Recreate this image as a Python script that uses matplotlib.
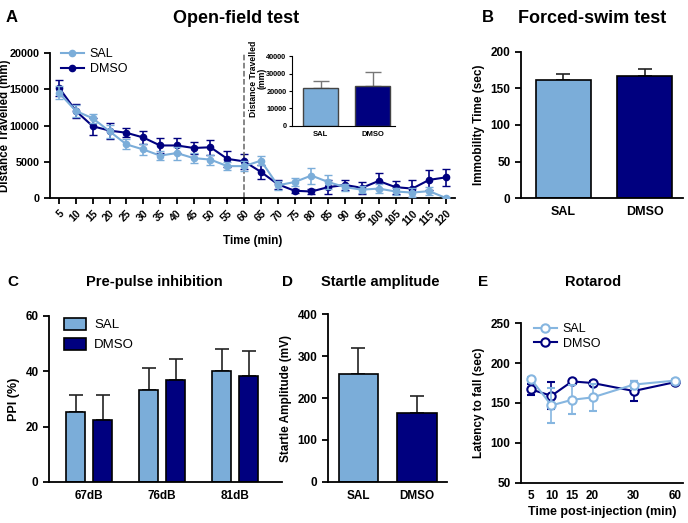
import matplotlib

matplotlib.use("Agg")
import matplotlib.pyplot as plt
import numpy as np
from matplotlib.patches import Patch

plt.rcParams["font.family"] = ["Liberation Sans", "DejaVu Sans"]
plt.rcParams["font.weight"] = "bold"
plt.rcParams["axes.labelweight"] = "bold"
plt.rcParams["axes.linewidth"] = 1.3
plt.rcParams["xtick.major.width"] = 1.3
plt.rcParams["ytick.major.width"] = 1.3

LIGHT = "#7badd9"
DARK = "#00007f"
GROUPS = ["SAL", "DMSO"]

# A: open field, distance per 5 min bin (mm)
of_time = list(range(5, 125, 5))
of_sal = [14500, 12000, 11000, 9200, 7400, 6700, 5850, 6200, 5500, 5300, 4400, 4400,
          5150, 1750, 2200, 3100, 2200, 1500, 1150, 1300, 900, 750, 950, 0]
of_sal_err = [900, 800, 600, 900, 700, 700, 600, 900, 700, 700, 500, 700,
              600, 600, 500, 1100, 1000, 500, 500, 600, 500, 600, 500, 200]
of_dmso = [15200, 12000, 9900, 9300, 9000, 8350, 7250, 7250, 6900, 7000, 5400, 5050,
           3600, 1900, 1000, 900, 1500, 1800, 1400, 2350, 1500, 1300, 2500, 2850]
of_dmso_err = [1100, 1000, 1200, 1100, 600, 900, 1000, 1000, 800, 1000, 1100, 1000,
               1000, 600, 300, 400, 1000, 700, 800, 1100, 900, 1200, 1400, 1200]
of_total = [22000, 23000]
of_total_err = [3500, 8000]

# B: forced swim
fs_mean = [162, 167]
fs_err = [8, 10]

# C: pre-pulse inhibition
ppi_levels = ["67dB", "76dB", "81dB"]
ppi_sal = [25.4, 33.4, 40.0]
ppi_sal_err = [6.0, 7.8, 8.0]
ppi_dmso = [22.5, 37.0, 38.2]
ppi_dmso_err = [8.8, 7.3, 9.1]

# D: startle amplitude
st_mean = [256, 165]
st_err = [63, 40]

# E: rotarod
rot_labels = ["5", "10", "15", "20", "30", "60"]
rot_pos = [5, 10, 15, 20, 30, 40]
rot_sal = [180, 147, 154, 157, 173, 178]
rot_sal_err = [3, 22, 18, 17, 5, 2]
rot_dmso = [167, 159, 177, 175, 165, 176]
rot_dmso_err = [7, 17, 2, 3, 13, 2]


def clean(ax):
    ax.spines["top"].set_visible(False)
    ax.spines["right"].set_visible(False)


def normal_legend(leg):
    for t in leg.get_texts():
        t.set_fontweight("normal")


def bar_pair(ax, means, errs, width, fs):
    x = np.arange(len(means))
    ax.bar(x, means, width=width, color=[LIGHT, DARK], edgecolor="black", linewidth=1.2, zorder=2)
    ax.errorbar(x, means, yerr=[[0] * len(errs), errs], fmt="none", ecolor="#222222",
                elinewidth=1.2, capsize=5, capthick=1.2, zorder=1)
    ax.set_xticks(x)
    ax.set_xticklabels(GROUPS, fontsize=fs, fontweight="bold")
    ax.tick_params(axis="x", length=0, pad=6)
    clean(ax)


fig = plt.figure(figsize=(6.88, 5.23), dpi=100)

# ---- A
ax = fig.add_axes([0.0727, 0.6214, 0.5887, 0.2772])
c1 = ax.errorbar(of_time, of_sal, yerr=of_sal_err, color=LIGHT, marker="o", ms=4.5, lw=1.5,
                 capsize=3, elinewidth=1.2, zorder=3)
c2 = ax.errorbar(of_time, of_dmso, yerr=of_dmso_err, color=DARK, marker="o", ms=4.5, lw=1.5,
                 capsize=3, elinewidth=1.2, zorder=2)
ax.axvline(60, color="#666666", ls="--", lw=1.1)
ax.set_xlim(2.3, 122.7)
ax.set_ylim(0, 20000)
ax.set_xticks(of_time)
ax.set_xticklabels([str(t) for t in of_time], rotation=45, ha="right", rotation_mode="anchor",
                   fontsize=7.5, fontweight="bold")
ax.set_yticks(range(0, 20001, 5000))
ax.set_yticklabels([str(v) for v in range(0, 20001, 5000)], fontsize=7.8, fontweight="bold")
ax.set_xlabel("Time (min)", fontsize=8.5, labelpad=5)
ax.set_ylabel("Distance Travelled (mm)", fontsize=8.3)
ax.yaxis.set_label_coords(-0.097, 0.5)
ax.tick_params(length=4)
clean(ax)
leg = ax.legend([c1[0], c2[0]], GROUPS, loc="upper left", bbox_to_anchor=(0.015, 1.07),
                frameon=False, fontsize=9, handlelength=1.8, handletextpad=0.5,
                borderaxespad=0, labelspacing=0.25)
normal_legend(leg)

ins = fig.add_axes([0.4244, 0.7591, 0.1497, 0.1338])
x = np.arange(2)
ins.bar(x, of_total, width=0.67, color=[LIGHT, DARK], edgecolor="#444444", linewidth=1, zorder=2)
ins.errorbar(x, of_total, yerr=[[0, 0], of_total_err], fmt="none", ecolor="#777777",
             elinewidth=1, capsize=6, zorder=1)
ins.set_xlim(-0.55, 1.43)
ins.set_ylim(0, 40000)
ins.set_yticks(range(0, 40001, 10000))
ins.set_yticklabels([str(v) for v in range(0, 40001, 10000)], fontsize=5.3, fontweight="bold")
ins.set_xticks(x)
ins.set_xticklabels(GROUPS, fontsize=5.5, fontweight="bold")
ins.tick_params(axis="x", length=0)
ins.tick_params(axis="y", length=2.5, width=0.8, pad=1.5)
ins.set_ylabel("Distance Travelled\n(mm)", fontsize=6.2, linespacing=1.0)
ins.yaxis.set_label_coords(-0.245, 0.68)
for s in ins.spines.values():
    s.set_linewidth(0.8)
clean(ins)

# ---- B
ax = fig.add_axes([0.7573, 0.6214, 0.2355, 0.2792])
bar_pair(ax, fs_mean, fs_err, 0.675, 9)
ax.set_xlim(-0.52, 1.47)
ax.set_ylim(0, 200)
ax.set_yticks([0, 50, 100, 150, 200])
ax.set_yticklabels(["0", "50", "100", "150", "200"], fontsize=8.5, fontweight="bold")
ax.set_ylabel("Immobility Time (sec)", fontsize=8.5)
ax.tick_params(axis="y", length=4)

# ---- C
ax = fig.add_axes([0.0712, 0.0784, 0.3387, 0.3174])
g = np.arange(len(ppi_levels))
ax.bar(g - 0.185, ppi_sal, width=0.26, color=LIGHT, edgecolor="black", linewidth=1.2, zorder=2)
ax.bar(g + 0.185, ppi_dmso, width=0.26, color=DARK, edgecolor="black", linewidth=1.2, zorder=2)
ax.errorbar(g - 0.185, ppi_sal, yerr=[[0] * 3, ppi_sal_err], fmt="none", ecolor="#222222",
            elinewidth=1.2, capsize=5, capthick=1.2, zorder=1)
ax.errorbar(g + 0.185, ppi_dmso, yerr=[[0] * 3, ppi_dmso_err], fmt="none", ecolor="#222222",
            elinewidth=1.2, capsize=5, capthick=1.2, zorder=1)
ax.set_xlim(-0.55, 2.64)
ax.set_ylim(0, 60)
ax.set_xticks(g)
ax.set_xticklabels(ppi_levels, fontsize=8.5, fontweight="bold")
ax.tick_params(axis="x", length=0, pad=6)
ax.set_yticks([0, 20, 40, 60])
ax.set_yticklabels(["0", "20", "40", "60"], fontsize=8.5, fontweight="bold")
ax.tick_params(axis="y", length=4)
ax.set_ylabel("PPI (%)", fontsize=9)
clean(ax)
handles = [Patch(facecolor=LIGHT, edgecolor="black", linewidth=1.2, label="SAL"),
           Patch(facecolor=DARK, edgecolor="black", linewidth=1.2, label="DMSO")]
leg = ax.legend(handles=handles, loc="upper left", bbox_to_anchor=(0.04, 1.02), frameon=False,
                fontsize=9.5, handlelength=1.7, handleheight=1.0, handletextpad=0.6,
                borderaxespad=0, labelspacing=0.5)
normal_legend(leg)

# ---- D
ax = fig.add_axes([0.4767, 0.0784, 0.1730, 0.3212])
bar_pair(ax, st_mean, st_err, 0.67, 8.5)
ax.set_xlim(-0.52, 1.51)
ax.set_ylim(0, 400)
ax.set_yticks([0, 100, 200, 300, 400])
ax.set_yticklabels(["0", "100", "200", "300", "400"], fontsize=8.5, fontweight="bold")
ax.set_ylabel("Startle Amplitude (mV)", fontsize=8.5)
ax.tick_params(axis="y", length=4)

# ---- E
ax = fig.add_axes([0.7573, 0.0765, 0.2355, 0.3059])
e1 = ax.errorbar(rot_pos, rot_sal, yerr=rot_sal_err, color="#86b6e0", marker="o", ms=6,
                 mfc="white", mew=1.5, lw=1.5, capsize=3, elinewidth=1.2, zorder=3)
e2 = ax.errorbar(rot_pos, rot_dmso, yerr=rot_dmso_err, color=DARK, marker="o", ms=6,
                 mfc="white", mew=1.5, lw=1.5, capsize=3, elinewidth=1.2, zorder=2)
ax.set_xlim(2.6, 42)
ax.set_ylim(50, 250)
ax.set_xticks(rot_pos)
ax.set_xticklabels(rot_labels, fontsize=8.5, fontweight="bold")
ax.set_yticks([50, 100, 150, 200, 250])
ax.set_yticklabels(["50", "100", "150", "200", "250"], fontsize=8.5, fontweight="bold")
ax.tick_params(axis="x", length=0, pad=5)
ax.tick_params(axis="y", length=4)
ax.set_xlabel("Time post-injection (min)", fontsize=9, labelpad=3)
ax.set_ylabel("Latency to fall (sec)", fontsize=8.5)
clean(ax)
leg = ax.legend([e1[0], e2[0]], GROUPS, loc="upper left", bbox_to_anchor=(0.05, 1.03),
                frameon=False, fontsize=9, handlelength=1.8, handletextpad=0.5,
                borderaxespad=0, labelspacing=0.2)
normal_legend(leg)

# panel letters and titles
fig.text(0.008, 0.980, "A", fontsize=12, fontweight="bold", va="top")
fig.text(0.343, 0.980, "Open-field test", fontsize=13, fontweight="bold", va="top", ha="center")
fig.text(0.700, 0.980, "B", fontsize=12, fontweight="bold", va="top")
fig.text(0.860, 0.980, "Forced-swim test", fontsize=13, fontweight="bold", va="top", ha="center")
fig.text(0.010, 0.475, "C", fontsize=11, fontweight="bold", va="top")
fig.text(0.224, 0.475, "Pre-pulse inhibition", fontsize=10.5, fontweight="bold", va="top", ha="center")
fig.text(0.410, 0.475, "D", fontsize=11, fontweight="bold", va="top")
fig.text(0.553, 0.475, "Startle amplitude", fontsize=10.5, fontweight="bold", va="top", ha="center")
fig.text(0.695, 0.475, "E", fontsize=11, fontweight="bold", va="top")
fig.text(0.862, 0.475, "Rotarod", fontsize=10.5, fontweight="bold", va="top", ha="center")

fig.savefig("out.png", dpi=100)
plt.close(fig)
